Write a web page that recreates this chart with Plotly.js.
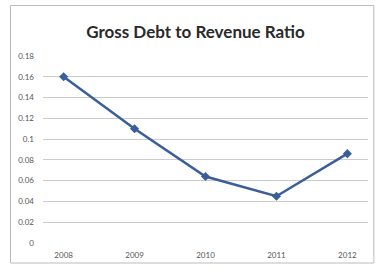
<!DOCTYPE html>
<html><head><meta charset="utf-8">
<script src="https://cdn.plot.ly/plotly-3.0.1.min.js"></script>
<style>html,body{margin:0;padding:0;background:#fff}#c{width:376px;height:275px}</style>
</head><body><div id="c"></div>
<script>
const years = ['2008','2009','2010','2011','2012'];
const ratio = [0.160, 0.110, 0.064, 0.045, 0.086];
const yTicks = [0,0.02,0.04,0.06,0.08,0.1,0.12,0.14,0.16,0.18];

Plotly.newPlot('c', [{
  x: years, y: ratio, type: 'scatter', mode: 'lines+markers',
  line: {color: '#3A5E9C', width: 2.5},
  marker: {symbol: 'diamond', size: 7, color: '#3A5E9C'},
  hoverinfo: 'skip'
}], {
  width: 376, height: 275,
  margin: {l: 43, r: 8, t: 56, b: 32},
  paper_bgcolor: '#fff', plot_bgcolor: '#fff',
  title: {text: 'Gross Debt to Revenue Ratio', font: {family: 'Lato, sans-serif', size: 17, color: '#2a2a2a', weight: 'bold'}, x: 0.52, xanchor: 'center', y: 0.885, yanchor: 'middle'},
  showlegend: false,
  xaxis: {type: 'category', showgrid: false, zeroline: false, showline: false, ticks: '', tickfont: {family: 'Lato, sans-serif', size: 8, color: '#555'}, ticklabelstandoff: 6, fixedrange: true},
  yaxis: {range: [0, 0.18], tickvals: yTicks, ticktext: yTicks.map(String), showgrid: true, gridcolor: '#cccccc', gridwidth: 1, zeroline: false, showline: false, ticks: '', tickfont: {family: 'Lato, sans-serif', size: 8, color: '#555'}, ticklabelstandoff: 8, fixedrange: true},
  shapes: [{type: 'rect', xref: 'paper', yref: 'paper', x0: -0.1, x1: 1.018, y0: -0.107, y1: 1.27, line: {color: '#bbbbbb', width: 1}}]
}, {displayModeBar: false, staticPlot: true});
</script></body></html>
